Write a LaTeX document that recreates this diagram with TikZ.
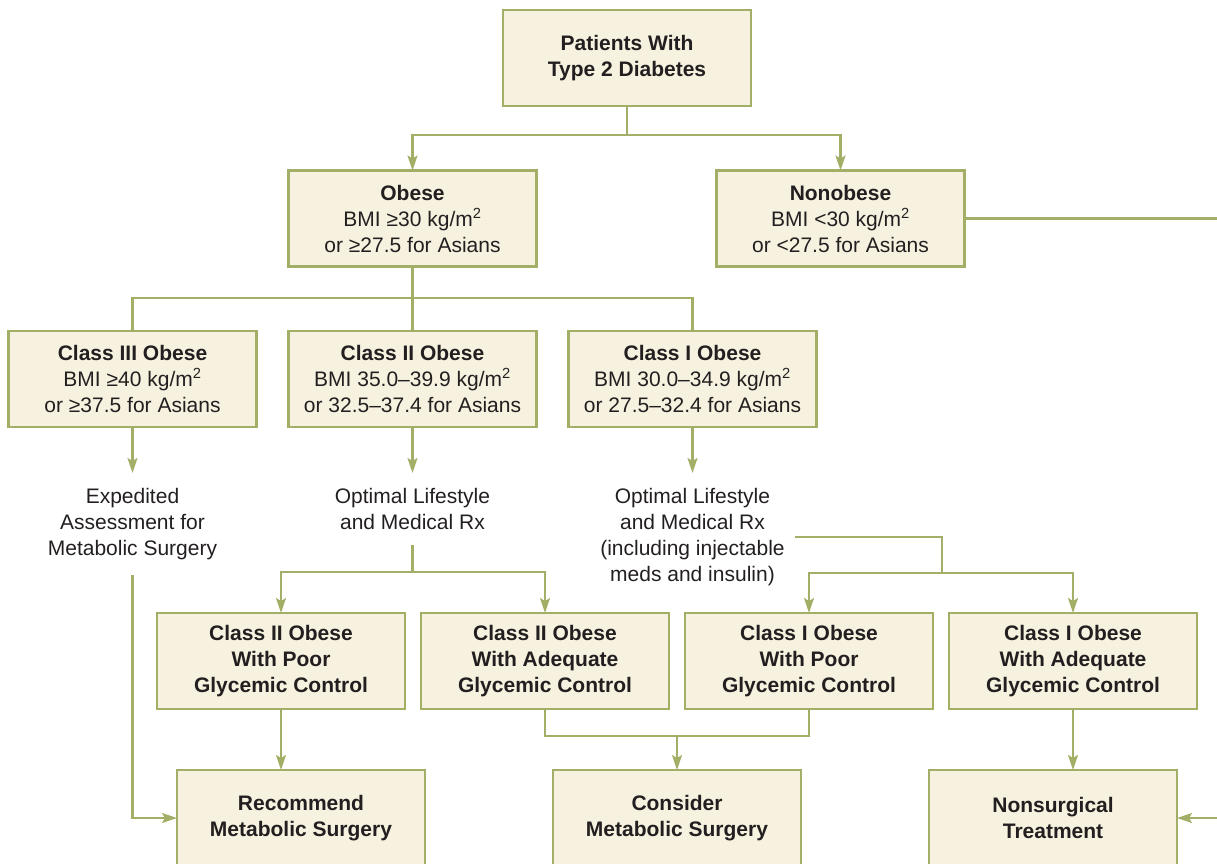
\documentclass[tikz,border=0pt]{standalone}
\usepackage{fontspec}
\setmainfont{Liberation Sans}
\usetikzlibrary{arrows.meta, positioning, calc}
\definecolor{boxline}{HTML}{A3AF66}
\definecolor{boxfill}{HTML}{F7F2DF}
\definecolor{ink}{HTML}{231F20}

\begin{document}
\begin{tikzpicture}[
    x=1pt, y=-1pt,
    box/.style={draw=boxline, line width=2.8pt, fill=boxfill, minimum width=248pt,
                minimum height=96pt, align=center, inner sep=0pt, outer sep=0pt,
                text=ink, font=\fontsize{21}{26}\selectfont},
    boldbox/.style={box, font=\fontsize{21}{26}\selectfont\bfseries},
    note/.style={align=center, anchor=north, inner xsep=10pt, inner ysep=15pt,
                 text=ink, font=\fontsize{21}{26}\selectfont},
    link/.style={draw=boxline, line width=2.1pt},
    arrow/.style={link, -{Stealth[length=15pt, width=10pt, inset=3pt]}},
]
\useasboundingbox (0,0) rectangle (1217,863);

\node[boldbox] (patients) at (627,58) {Patients With\\Type 2 Diabetes};

\node[box] (obese) at (412.5,218.5) {\textbf{Obese}\\BMI ≥30 kg/m\textsuperscript{2}\\or ≥27.5 for Asians};
\node[box, right=180pt of obese] (nonobese) {\textbf{Nonobese}\\BMI <30 kg/m\textsuperscript{2}\\or <27.5 for Asians};

\node[box] (classIII) at (132.5,379) {\textbf{Class III Obese}\\BMI ≥40 kg/m\textsuperscript{2}\\or ≥37.5 for Asians};
\node[box, right=32pt of classIII] (classII) {\textbf{Class II Obese}\\BMI 35.0–39.9 kg/m\textsuperscript{2}\\or 32.5–37.4 for Asians};
\node[box, right=32pt of classII] (classI) {\textbf{Class I Obese}\\BMI 30.0–34.9 kg/m\textsuperscript{2}\\or 27.5–32.4 for Asians};

% treatment notes
\node[note] (expedited) at (classIII.south |- 0,473) {Expedited\\Assessment for\\Metabolic Surgery};
\node[note] (lifestyleII) at (classII.south |- 0,473) {Optimal Lifestyle\\and Medical Rx};
\node[note] (lifestyleI) at (classI.south |- 0,473) {Optimal Lifestyle\\and Medical Rx\\(including injectable\\meds and insulin)};

\node[boldbox] (poorII) at (281,661) {Class II Obese\\With Poor\\Glycemic Control};
\node[boldbox, right=16pt of poorII] (adequateII) {Class II Obese\\With Adequate\\Glycemic Control};
\node[boldbox, right=16pt of adequateII] (poorI) {Class I Obese\\With Poor\\Glycemic Control};
\node[boldbox, right=16pt of poorI] (adequateI) {Class I Obese\\With Adequate\\Glycemic Control};

\node[boldbox] (recommend) at (301,818) {Recommend\\Metabolic Surgery};
\node[boldbox, right=128pt of recommend] (consider) {Consider\\Metabolic Surgery};
\node[boldbox, right=128pt of consider] (nonsurgical) {Nonsurgical\\Treatment};

\coordinate (rim) at (1222,0);

\draw[arrow] (patients.south) -- ++(0,29) -| (obese);
\draw[arrow] (patients.south) -- ++(0,29) -| (nonobese);

\draw[link] (obese) -- (classII);
\draw[link] (classIII.north) -- ++(0,-33) -| (classI.north);

\draw[arrow] (classIII) -- (expedited);
\draw[arrow] (classII) -- (lifestyleII);
\draw[arrow] (classI) -- (lifestyleI);

\coordinate (forkII) at ($(lifestyleII.south |- poorII.north)+(0,-41)$);
\draw[link] (lifestyleII.south) -- (forkII);
\draw[arrow] (forkII) -| (poorII);
\draw[arrow] (forkII) -| (adequateII);

\draw[link] (lifestyleI.east) -| ($(poorI.north east)+(9,-40)$) coordinate (forkI);
\draw[arrow] (forkI) -| (poorI);
\draw[arrow] (forkI) -| (adequateI);

\draw[arrow] (expedited.south) |- (recommend.west);
\draw[arrow] (poorII) -- (poorII |- recommend.north);

\coordinate (merge) at ($(consider.north)+(0,-34)$);
\draw[link] (adequateII.south) |- (merge) -| (poorI.south);
\draw[arrow] (merge) -- (consider);

\draw[arrow] (adequateI) -- (adequateI |- nonsurgical.north);
\draw[arrow] (nonobese.east) -- (nonobese.east -| rim) |- (nonsurgical.east);
\end{tikzpicture}
\end{document}
